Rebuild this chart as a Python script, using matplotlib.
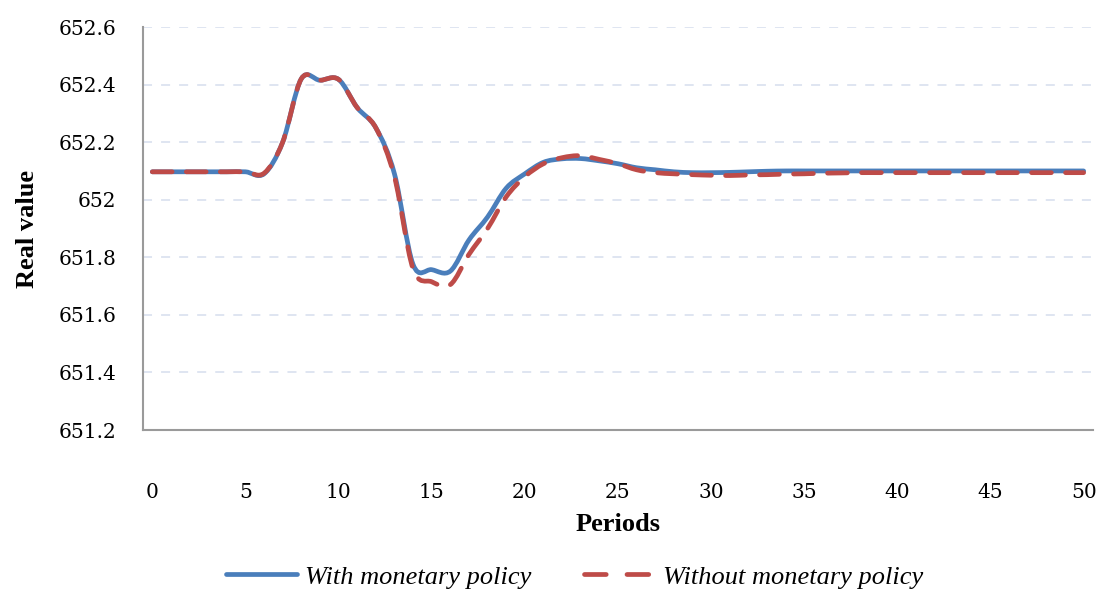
import numpy as np
import matplotlib
matplotlib.use("Agg")
import matplotlib.pyplot as plt
from matplotlib.path import Path
from matplotlib.patches import PathPatch
from matplotlib.lines import Line2D

periods = list(range(0, 51))

with_policy = [652.097, 652.097, 652.097, 652.097, 652.097, 652.097, 652.09, 652.20, 652.42, 652.415,
               652.418, 652.32, 652.25, 652.09, 651.775, 651.757, 651.752, 651.86, 651.94, 652.04,
               652.09, 652.13, 652.142, 652.143, 652.135, 652.125, 652.111, 652.104, 652.097, 652.094,
               652.094, 652.095, 652.097, 652.099, 652.10, 652.10, 652.10, 652.10, 652.10, 652.10,
               652.10, 652.10, 652.10, 652.10, 652.10, 652.10, 652.10, 652.10, 652.10, 652.10,
               652.10]

without_policy = [652.097, 652.097, 652.097, 652.097, 652.097, 652.097, 652.092, 652.20, 652.42, 652.415,
                  652.418, 652.32, 652.25, 652.08, 651.76, 651.715, 651.705, 651.81, 651.90, 652.01,
                  652.08, 652.125, 652.146, 652.153, 652.14, 652.125, 652.104, 652.094, 652.09, 652.087,
                  652.085, 652.084, 652.086, 652.087, 652.089, 652.09, 652.092, 652.093, 652.094, 652.094,
                  652.094, 652.094, 652.094, 652.094, 652.094, 652.094, 652.094, 652.094, 652.094, 652.094,
                  652.094]

series_names = ["With monetary policy", "Without monetary policy"]
colors = ["#4a7ebb", "#be4b48"]


def smooth_path(x, y):
    # Excel-like smoothed line: cubic Bezier between points (Catmull-Rom tangents)
    p = np.column_stack([x, y]).astype(float)
    n = len(p)
    verts = [p[0]]
    codes = [Path.MOVETO]
    for i in range(n - 1):
        p0 = p[i - 1] if i > 0 else p[i]
        p3 = p[i + 2] if i + 2 < n else p[i + 1]
        c1 = p[i] + (p[i + 1] - p0) / 6.0
        c2 = p[i + 1] - (p3 - p[i]) / 6.0
        verts += [c1, c2, p[i + 1]]
        codes += [Path.CURVE4] * 3
    return Path(verts, codes)


fig = plt.figure(figsize=(10.99, 5.91), dpi=100)
ax = fig.add_axes([0.1301, 0.2724, 0.8644, 0.6819])

dash = (0, (4.2, 3.0))
ax.add_patch(PathPatch(smooth_path(periods, with_policy), fill=False, edgecolor=colors[0],
                       linewidth=3.4, capstyle="round", joinstyle="round", zorder=3))
ax.add_patch(PathPatch(smooth_path(periods, without_policy), fill=False, edgecolor=colors[1],
                       linewidth=3.4, linestyle=dash, capstyle="round", joinstyle="round", zorder=4))

ax.set_xlim(-0.5, 50.5)
ax.set_ylim(651.2, 652.6)
ax.set_xticks(range(0, 51, 5))
ax.set_yticks(np.arange(651.2, 652.61, 0.2))
ax.set_yticklabels(["651.2", "651.4", "651.6", "651.8", "652", "652.2", "652.4", "652.6"])

for lab in ax.get_xticklabels() + ax.get_yticklabels():
    lab.set_fontfamily("DejaVu Serif")
    lab.set_fontsize(14.5)
ax.tick_params(axis="x", length=0, pad=38)
ax.tick_params(axis="y", length=0, pad=19)

ax.grid(axis="y", color="#dce3f0", linestyle=(0, (5, 5)), linewidth=1.3)
ax.set_axisbelow(True)
for s in ["top", "right"]:
    ax.spines[s].set_visible(False)
for s in ["left", "bottom"]:
    ax.spines[s].set_color("#9a9a9a")
    ax.spines[s].set_linewidth(1.5)

ax.set_xlabel("Periods", fontfamily="Liberation Serif", fontweight="bold", fontsize=19, labelpad=8)
ax.set_ylabel("Real value", fontfamily="Liberation Serif", fontweight="bold", fontsize=19, labelpad=14)

handles = [Line2D([], [], color=colors[0], linewidth=3.4, solid_capstyle="round"),
           Line2D([], [], color=colors[1], linewidth=3.4, linestyle=(0, (4.6, 4.4)), dash_capstyle="round")]
fig.legend(handles, series_names, loc="center", bbox_to_anchor=(0.523, 0.024), ncol=2, frameon=False,
           prop={"family": "Liberation Serif", "style": "italic", "size": 19},
           handlelength=2.7, columnspacing=2.0, handletextpad=0.3)

fig.savefig("out.png", dpi=100)
